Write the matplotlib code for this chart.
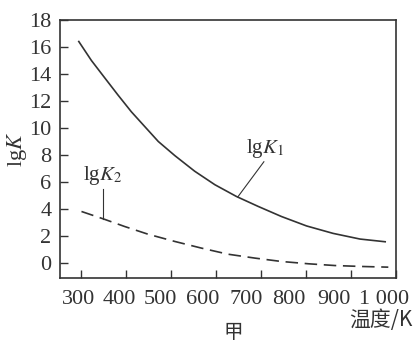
import numpy as np
import matplotlib.pyplot as plt
import matplotlib.transforms as mtransforms

# lgK1 (solid) and lgK2 (dashed)
t1 = [294, 322, 352, 381, 411, 441, 471, 508, 552, 597, 645, 693, 745, 801, 860, 920, 976]
lgk1 = [16.4, 15.0, 13.7, 12.45, 11.2, 10.1, 9.0, 7.95, 6.8, 5.8, 4.93, 4.2, 3.45, 2.75, 2.2, 1.78, 1.58]

t2 = [300, 348, 396, 448, 508, 567, 626, 686, 745, 805, 864, 924, 983]
lgk2 = [3.82, 3.28, 2.71, 2.14, 1.6, 1.11, 0.66, 0.37, 0.12, -0.05, -0.18, -0.25, -0.3]

xticks = [300, 400, 500, 600, 700, 800, 900, 1000]
xlabels = ['300', '400', '500', '600', '700', '800', '900', '1 000']
yticks = list(range(0, 19, 2))

plt.rcParams['font.family'] = ['Liberation Serif', 'Noto Sans CJK SC']
plt.rcParams['mathtext.fontset'] = 'stix'
ink = '#333333'

fig = plt.figure(figsize=(4.19, 3.43), dpi=100)
ax = fig.add_axes([0.143, 0.19, 0.802, 0.752])

ax.plot(t1, lgk1, color=ink, lw=1.2)
ax.plot(t2, lgk2, color=ink, lw=1.2, dashes=(7.5, 4))

# leader lines and labels
ax.plot([706, 648], [7.5, 4.9], color=ink, lw=0.8)
ax.text(708, 7.6, r'lg$K_1$', fontsize=15, color=ink, ha='center', va='bottom')
ax.plot([348, 348], [5.5, 3.28], color=ink, lw=0.8)
ax.text(347, 5.6, r'lg$K_2$', fontsize=15, color=ink, ha='center', va='bottom')

ax.set_xlim(252, 1000)
ax.set_ylim(-1.09, 18)
ax.set_xticks(xticks)
ax.set_xticklabels(xlabels)
ax.set_yticks(yticks)
ax.tick_params(direction='in', length=6, width=1, colors=ink, labelsize=16, pad=6)
ax.tick_params(axis='x', pad=9)
for s in ax.spines.values():
    s.set_color(ink)
    s.set_linewidth(1.2)

# x labels in the original are packed slightly tighter than the ticks
shift_px = [-3, -7, -11, -14, -15, -17, -17, -12]
for lab, dx in zip(ax.get_xticklabels(), shift_px):
    lab.set_transform(lab.get_transform() + mtransforms.ScaledTranslation(dx / 100, 0, fig.dpi_scale_trans))

ax.set_ylabel(r'lg$K$', fontsize=16, color=ink, labelpad=0)
fig.text(0.985, 0.035, '温度/K', fontsize=15, color=ink, ha='right', va='bottom',
         family=['Noto Sans CJK SC', 'DejaVu Sans'])
fig.text(0.556, 0.0, '甲', fontsize=14, color=ink, ha='center', va='bottom',
         family=['Noto Sans CJK SC'])

fig.savefig('out.png', dpi=100)
